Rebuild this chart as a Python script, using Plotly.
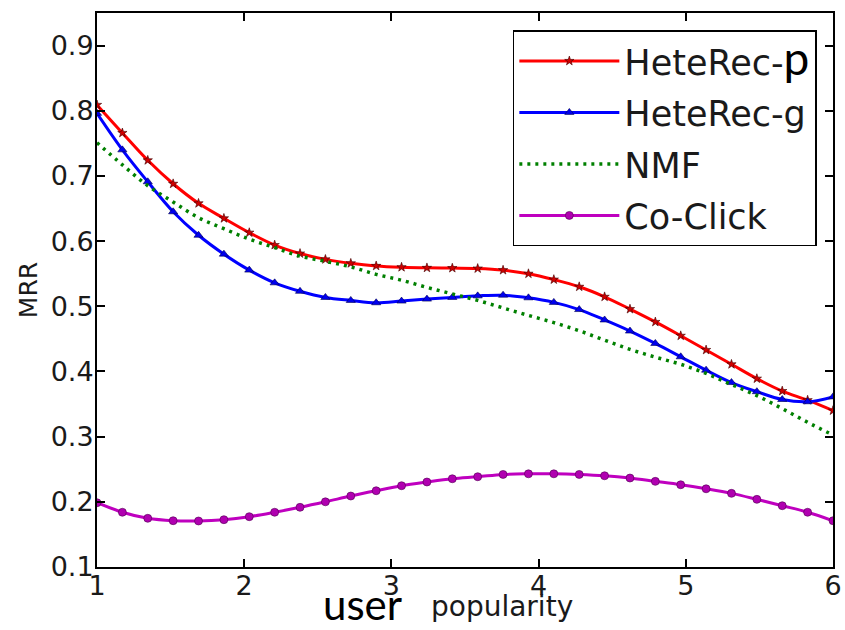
import numpy as np
import plotly.graph_objects as go

# x positions: 30 sampled popularity levels between 1 and 6
x_vals = list(np.linspace(1, 6, 30))

heterec_p = [0.809, 0.766, 0.724, 0.688, 0.658, 0.635, 0.613, 0.594, 0.581, 0.572,
             0.566, 0.562, 0.560, 0.559, 0.5586, 0.558, 0.5555, 0.550, 0.541, 0.530,
             0.5146, 0.4957, 0.476, 0.4548, 0.433, 0.411, 0.389, 0.370, 0.356, 0.340]

heterec_g = [0.796, 0.740, 0.691, 0.645, 0.609, 0.580, 0.5555, 0.536, 0.523, 0.5136,
             0.509, 0.5054, 0.508, 0.511, 0.5136, 0.516, 0.517, 0.513, 0.506, 0.495,
             0.479, 0.462, 0.443, 0.4225, 0.402, 0.383, 0.369, 0.357, 0.3535, 0.361]

nmf = [0.751, 0.717, 0.685, 0.660, 0.636, 0.619, 0.603, 0.590, 0.577, 0.569,
       0.5605, 0.549, 0.540, 0.529, 0.519, 0.509, 0.4975, 0.486, 0.475, 0.4625,
       0.448, 0.434, 0.422, 0.411, 0.397, 0.380, 0.363, 0.343, 0.322, 0.3025]

co_click = [0.1986, 0.184, 0.1747, 0.171, 0.1706, 0.1726, 0.1772, 0.184, 0.1916, 0.200,
            0.2089, 0.217, 0.2247, 0.2304, 0.2354, 0.2385, 0.242, 0.243, 0.243, 0.242,
            0.240, 0.2365, 0.2314, 0.2262, 0.220, 0.213, 0.2038, 0.194, 0.184, 0.171]

x_ticks = [1, 2, 3, 4, 5, 6]
y_ticks = [0.1, 0.2, 0.3, 0.4, 0.5, 0.6, 0.7, 0.8, 0.9]
y_tick_text = ["0.1", "0.2", "0.3", "0.4", "0.5", "0.6", "0.7", "0.8", "0.9"]

names = ["HeteRec-<span style='font-family:Lato;color:black;font-size:46px'>p</span>",
         "HeteRec-g", "NMF", "Co-Click"]

TXT = "#1a1a1a"
DV = "DejaVu Sans"

fig = go.Figure()
fig.add_trace(go.Scatter(
    x=x_vals, y=heterec_p, name=names[0], mode="lines+markers", legendgroup="a",
    line=dict(color="#ff0000", width=3, shape="spline"),
    marker=dict(symbol="star", size=7, color="#d00000", line=dict(color="#400000", width=0.6))))
fig.add_trace(go.Scatter(
    x=x_vals, y=heterec_g, name=names[1], mode="lines+markers", legendgroup="b",
    line=dict(color="#0000ff", width=3, shape="spline"),
    marker=dict(symbol="triangle-up", size=8, color="#0000ee", line=dict(color="#000050", width=0.6))))
fig.add_trace(go.Scatter(
    x=x_vals, y=nmf, name=names[2], mode="lines", legendgroup="c",
    line=dict(color="#008000", width=3.5, dash="3px,5px", shape="spline")))
fig.add_trace(go.Scatter(
    x=x_vals, y=co_click, name=names[3], mode="lines+markers", legendgroup="d",
    line=dict(color="#bf00bf", width=3, shape="spline"),
    marker=dict(symbol="circle", size=8, color="#b000b0", line=dict(color="#500050", width=0.6))))

axis_common = dict(
    showline=True, linecolor="black", linewidth=2, mirror="allticks",
    ticks="inside", ticklen=8, tickwidth=1.5, tickcolor="black",
    showgrid=False, zeroline=False, automargin=False,
    tickfont=dict(family=DV, size=27, color=TXT),
)

fig.update_xaxes(range=[1, 6], tickvals=x_ticks, ticktext=[str(v) for v in x_ticks],
                 ticklabelstandoff=-6, **axis_common)
fig.update_yaxes(range=[0.1, 0.95], tickvals=y_ticks, ticktext=y_tick_text,
                 title=dict(text="MRR", font=dict(family=DV, size=25, color=TXT), standoff=6),
                 ticklabelstandoff=-4, **axis_common)

fig.add_annotation(
    xref="paper", yref="paper", x=0.3607, y=-0.0668, xanchor="center", yanchor="middle",
    showarrow=False, text="user",
    font=dict(family="Lato", size=42, color="black"))
fig.add_annotation(
    xref="paper", yref="paper", x=0.5496, y=-0.0722, xanchor="center", yanchor="middle",
    showarrow=False, text="popularity",
    font=dict(family=DV, size=28, color=TXT))

fig.update_layout(
    width=845, height=630,
    margin=dict(l=97, r=12, t=13, b=63),
    paper_bgcolor="white", plot_bgcolor="white",
    showlegend=True,
    legend=dict(
        x=0.565, y=0.969, xanchor="left", yanchor="top",
        bgcolor="white", bordercolor="black", borderwidth=1.5,
        font=dict(family=DV, size=35, color=TXT),
        tracegroupgap=3, itemwidth=100,
    ),
)

fig.write_html("out.html", config={"displayModeBar": False},
               post_script="document.body.style.margin='0px';")
